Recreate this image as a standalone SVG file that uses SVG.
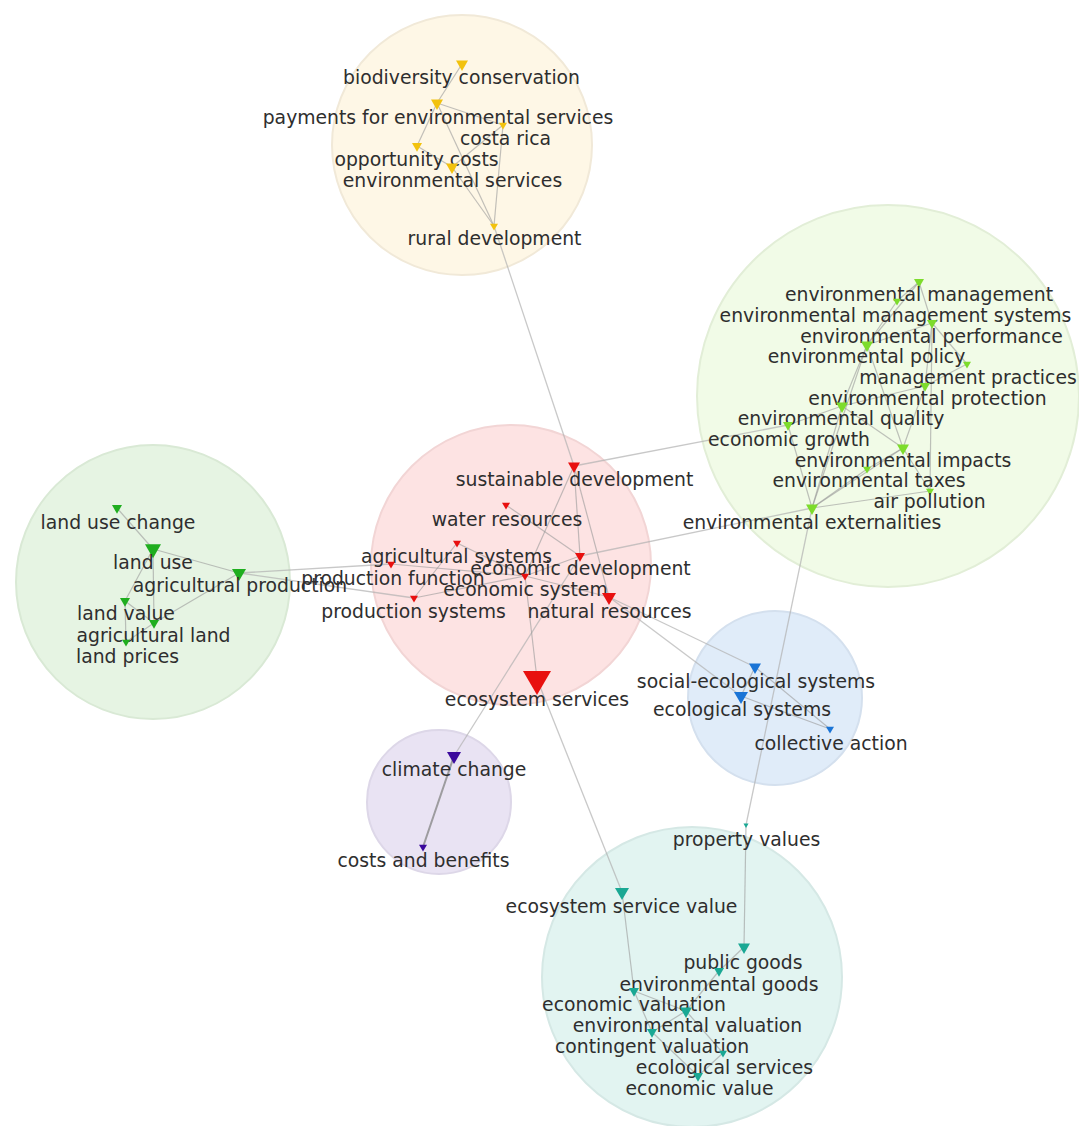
<svg xmlns="http://www.w3.org/2000/svg" xmlns:xlink="http://www.w3.org/1999/xlink" width="1079" height="1126" viewBox="0 0 1079 1126">
<defs>
<path id="tri" d="M-1,-0.58 L1,-0.58 L0,1.15 Z"/>
<style>
text{font-family:"DejaVu Sans","Liberation Sans",sans-serif;font-size:18.8px;fill:#2e2e2e;text-anchor:middle}
.e{stroke:#9a9a9a;stroke-width:1.2;stroke-opacity:0.6;fill:none}
.ex{stroke:#b0b0b0;stroke-width:1.3;stroke-opacity:0.7;fill:none}
.y{fill:#f2c20e}.gr{fill:#7ddc2c}.gl{fill:#1fae1f}.r{fill:#e8100f}.b{fill:#1a74d6}.p{fill:#3b0a9c}.t{fill:#1aa894}
</style>
</defs>
<rect width="1079" height="1126" fill="#ffffff"/>
<g id="clusters">
<circle cx="462" cy="145" r="130" fill="#fef7e6" stroke="#f1e9d8" stroke-width="2"/>
<circle cx="888" cy="396" r="191" fill="#f1fbe7" stroke="#e2eed7" stroke-width="2"/>
<circle cx="153" cy="582" r="137" fill="#e6f4e3" stroke="#d9e9d5" stroke-width="2"/>
<circle cx="511" cy="565" r="140" fill="#fde3e3" stroke="#f2d5d5" stroke-width="2"/>
<circle cx="775" cy="698" r="87" fill="#e0ecf9" stroke="#d4e0ee" stroke-width="2"/>
<circle cx="439" cy="802" r="72" fill="#e9e3f3" stroke="#ddd7e8" stroke-width="2"/>
<circle cx="692" cy="977" r="150" fill="#e2f4f1" stroke="#d5e8e5" stroke-width="2"/>
</g>
<g id="connectors">
<line class="e" x1="462" y1="64" x2="437" y2="103"/>
<line class="e" x1="437" y1="103" x2="417" y2="146"/>
<line class="e" x1="437" y1="103" x2="503" y2="125"/>
<line class="e" x1="437" y1="103" x2="494" y2="226"/>
<line class="e" x1="503" y1="125" x2="452" y2="167"/>
<line class="e" x1="503" y1="125" x2="494" y2="226"/>
<line class="e" x1="417" y1="146" x2="452" y2="167"/>
<line class="e" x1="452" y1="167" x2="494" y2="226"/>
<line class="ex" x1="494" y1="226" x2="574" y2="466"/>
<line class="e" x1="574" y1="466" x2="580" y2="556"/>
<line class="e" x1="574" y1="466" x2="609" y2="597"/>
<line class="e" x1="574" y1="466" x2="525" y2="576"/>
<line class="ex" x1="574" y1="466" x2="788" y2="425"/>
<line class="e" x1="506" y1="505" x2="580" y2="556"/>
<line class="e" x1="457" y1="543" x2="525" y2="576"/>
<line class="e" x1="457" y1="543" x2="414" y2="598"/>
<line class="e" x1="580" y1="556" x2="525" y2="576"/>
<line class="ex" x1="580" y1="556" x2="812" y2="508"/>
<line class="ex" x1="580" y1="556" x2="454" y2="756"/>
<line class="e" x1="525" y1="576" x2="537" y2="679"/>
<line class="e" x1="391" y1="564" x2="525" y2="576"/>
<line class="e" x1="414" y1="598" x2="525" y2="576"/>
<line class="e" x1="525" y1="576" x2="609" y2="597"/>
<line class="ex" x1="609" y1="597" x2="755" y2="667"/>
<line class="ex" x1="609" y1="597" x2="741" y2="696"/>
<line class="ex" x1="537" y1="679" x2="622" y2="892"/>
<line class="ex" x1="239" y1="573" x2="391" y2="564"/>
<line class="ex" x1="239" y1="573" x2="414" y2="598"/>
<line class="e" x1="919" y1="282" x2="897" y2="301"/>
<line class="e" x1="919" y1="282" x2="932" y2="323"/>
<line class="e" x1="919" y1="282" x2="867" y2="345"/>
<line class="e" x1="897" y1="301" x2="867" y2="345"/>
<line class="e" x1="932" y1="323" x2="867" y2="345"/>
<line class="e" x1="932" y1="323" x2="925" y2="386"/>
<line class="e" x1="932" y1="323" x2="930" y2="491"/>
<line class="e" x1="932" y1="323" x2="967" y2="364"/>
<line class="e" x1="867" y1="345" x2="842" y2="406"/>
<line class="e" x1="867" y1="345" x2="903" y2="448"/>
<line class="e" x1="867" y1="345" x2="812" y2="508"/>
<line class="e" x1="967" y1="364" x2="925" y2="386"/>
<line class="e" x1="925" y1="386" x2="842" y2="406"/>
<line class="e" x1="925" y1="386" x2="903" y2="448"/>
<line class="e" x1="842" y1="406" x2="788" y2="425"/>
<line class="e" x1="842" y1="406" x2="903" y2="448"/>
<line class="e" x1="842" y1="406" x2="812" y2="508"/>
<line class="e" x1="788" y1="425" x2="812" y2="508"/>
<line class="e" x1="903" y1="448" x2="867" y2="469"/>
<line class="e" x1="903" y1="448" x2="812" y2="508"/>
<line class="e" x1="903" y1="448" x2="930" y2="491"/>
<line class="e" x1="867" y1="469" x2="812" y2="508"/>
<line class="e" x1="930" y1="491" x2="812" y2="508"/>
<line class="e" x1="117" y1="508" x2="153" y2="549"/>
<line class="e" x1="153" y1="549" x2="239" y2="573"/>
<line class="e" x1="153" y1="549" x2="125" y2="601"/>
<line class="e" x1="153" y1="549" x2="154" y2="623"/>
<line class="e" x1="125" y1="601" x2="154" y2="623"/>
<line class="e" x1="125" y1="601" x2="126" y2="642"/>
<line class="e" x1="154" y1="623" x2="126" y2="642"/>
<line class="e" x1="239" y1="573" x2="154" y2="623"/>
<line class="e" x1="755" y1="667" x2="741" y2="696"/>
<line class="e" x1="755" y1="667" x2="830" y2="729"/>
<line class="e" x1="741" y1="696" x2="830" y2="729"/>
<line x1="454" y1="756" x2="423" y2="847" stroke="#8a8a8a" stroke-width="2" stroke-opacity="0.8"/>
<line class="ex" x1="812" y1="508" x2="746" y2="825"/>
<line class="e" x1="746" y1="825" x2="744" y2="947"/>
<line class="e" x1="622" y1="892" x2="634" y2="991"/>
<line class="e" x1="634" y1="991" x2="652" y2="1032"/>
<line class="e" x1="634" y1="991" x2="686" y2="1011"/>
<line class="e" x1="744" y1="947" x2="719" y2="971"/>
<line class="e" x1="719" y1="971" x2="686" y2="1011"/>
<line class="e" x1="686" y1="1011" x2="652" y2="1032"/>
<line class="e" x1="686" y1="1011" x2="723" y2="1053"/>
<line class="e" x1="652" y1="1032" x2="698" y2="1076"/>
<line class="e" x1="723" y1="1053" x2="698" y2="1076"/>
</g>
<g id="n-biodiversity-conservation"><use href="#tri" class="y" transform="translate(462,64) scale(6)"/><text x="461.5" y="84">biodiversity conservation</text></g>
<g id="n-payments"><use href="#tri" class="y" transform="translate(437,103) scale(6)"/><text x="438" y="124">payments for environmental services</text></g>
<g id="n-costa-rica"><use href="#tri" class="y" transform="translate(503,125) scale(4)"/><text x="505.5" y="145">costa rica</text></g>
<g id="n-opportunity-costs"><use href="#tri" class="y" transform="translate(417,146) scale(5)"/><text x="416.5" y="166">opportunity costs</text></g>
<g id="n-environmental-services"><use href="#tri" class="y" transform="translate(452,167) scale(6)"/><text x="452.5" y="187">environmental services</text></g>
<g id="n-rural-development"><use href="#tri" class="y" transform="translate(494,226) scale(4)"/><text x="494.5" y="245">rural development</text></g>

<g id="n-environmental-management"><use href="#tri" class="gr" transform="translate(919,282) scale(5)"/><text x="919" y="301">environmental management</text></g>
<g id="n-environmental-management-systems"><use href="#tri" class="gr" transform="translate(897,301) scale(4)"/><text x="895.5" y="322">environmental management systems</text></g>
<g id="n-environmental-performance"><use href="#tri" class="gr" transform="translate(932,323) scale(5)"/><text x="931.5" y="343">environmental performance</text></g>
<g id="n-environmental-policy"><use href="#tri" class="gr" transform="translate(867,345) scale(6)"/><text x="866.5" y="363">environmental policy</text></g>
<g id="n-management-practices"><use href="#tri" class="gr" transform="translate(967,364) scale(4)"/><text x="968" y="384">management practices</text></g>
<g id="n-environmental-protection"><use href="#tri" class="gr" transform="translate(925,386) scale(5)"/><text x="927.5" y="405">environmental protection</text></g>
<g id="n-environmental-quality"><use href="#tri" class="gr" transform="translate(842,406) scale(6)"/><text x="841" y="425">environmental quality</text></g>
<g id="n-economic-growth"><use href="#tri" class="gr" transform="translate(788,425) scale(5)"/><text x="789" y="446">economic growth</text></g>
<g id="n-environmental-impacts"><use href="#tri" class="gr" transform="translate(903,448) scale(6)"/><text x="903" y="467">environmental impacts</text></g>
<g id="n-environmental-taxes"><use href="#tri" class="gr" transform="translate(867,469) scale(4)"/><text x="869" y="487">environmental taxes</text></g>
<g id="n-air-pollution"><use href="#tri" class="gr" transform="translate(930,491) scale(4)"/><text x="929.5" y="508">air pollution</text></g>
<g id="n-environmental-externalities"><use href="#tri" class="gr" transform="translate(812,508) scale(6)"/><text x="812" y="529">environmental externalities</text></g>

<g id="n-sustainable-development"><use href="#tri" class="r" transform="translate(574,466) scale(6)"/><text x="574.5" y="486">sustainable development</text></g>
<g id="n-water-resources"><use href="#tri" class="r" transform="translate(506,505) scale(4)"/><text x="507" y="526">water resources</text></g>
<g id="n-agricultural-systems"><use href="#tri" class="r" transform="translate(457,543) scale(4)"/><text x="456.5" y="563">agricultural systems</text></g>
<g id="n-production-function"><use href="#tri" class="r" transform="translate(391,564) scale(4)"/><text x="393" y="585">production function</text></g>
<g id="n-economic-development"><use href="#tri" class="r" transform="translate(580,556) scale(5)"/><text x="580.5" y="575">economic development</text></g>
<g id="n-economic-system"><use href="#tri" class="r" transform="translate(525,576) scale(4)"/><text x="525.5" y="596">economic system</text></g>
<g id="n-production-systems"><use href="#tri" class="r" transform="translate(414,598) scale(4)"/><text x="413.5" y="618">production systems</text></g>
<g id="n-natural-resources"><use href="#tri" class="r" transform="translate(609,597) scale(7)"/><text x="609.5" y="618">natural resources</text></g>
<g id="n-ecosystem-services"><use href="#tri" class="r" transform="translate(537,679) scale(14)"/><text x="537" y="706">ecosystem services</text></g>

<g id="n-land-use-change"><use href="#tri" class="gl" transform="translate(117,508) scale(5)"/><text x="118" y="529">land use change</text></g>
<g id="n-land-use"><use href="#tri" class="gl" transform="translate(153,549) scale(8)"/><text x="153" y="569">land use</text></g>
<g id="n-agricultural-production"><use href="#tri" class="gl" transform="translate(239,573) scale(7)"/><text x="240" y="592">agricultural production</text></g>
<g id="n-land-value"><use href="#tri" class="gl" transform="translate(125,601) scale(5)"/><text x="126" y="620">land value</text></g>
<g id="n-agricultural-land"><use href="#tri" class="gl" transform="translate(154,623) scale(5)"/><text x="153.5" y="642">agricultural land</text></g>
<g id="n-land-prices"><use href="#tri" class="gl" transform="translate(126,642) scale(4)"/><text x="127.5" y="663">land prices</text></g>

<g id="n-social-ecological-systems"><use href="#tri" class="b" transform="translate(755,667) scale(6)"/><text x="756" y="688">social-ecological systems</text></g>
<g id="n-ecological-systems"><use href="#tri" class="b" transform="translate(741,696) scale(7)"/><text x="742" y="716">ecological systems</text></g>
<g id="n-collective-action"><use href="#tri" class="b" transform="translate(830,729) scale(4)"/><text x="831" y="750">collective action</text></g>

<g id="n-climate-change"><use href="#tri" class="p" transform="translate(454,756) scale(7)"/><text x="454" y="776">climate change</text></g>
<g id="n-costs-and-benefits"><use href="#tri" class="p" transform="translate(423,847) scale(4)"/><text x="423.5" y="867">costs and benefits</text></g>

<g id="n-property-values"><use href="#tri" class="t" transform="translate(746,825) scale(2.5)"/><text x="746.5" y="846">property values</text></g>
<g id="n-ecosystem-service-value"><use href="#tri" class="t" transform="translate(622,892) scale(7)"/><text x="621.5" y="913">ecosystem service value</text></g>
<g id="n-public-goods"><use href="#tri" class="t" transform="translate(744,947) scale(6)"/><text x="743" y="969">public goods</text></g>
<g id="n-environmental-goods"><use href="#tri" class="t" transform="translate(719,971) scale(5)"/><text x="719" y="991">environmental goods</text></g>
<g id="n-economic-valuation"><use href="#tri" class="t" transform="translate(634,991) scale(5)"/><text x="634" y="1011">economic valuation</text></g>
<g id="n-environmental-valuation"><use href="#tri" class="t" transform="translate(686,1011) scale(6)"/><text x="687.5" y="1032">environmental valuation</text></g>
<g id="n-contingent-valuation"><use href="#tri" class="t" transform="translate(652,1032) scale(5)"/><text x="652" y="1053">contingent valuation</text></g>
<g id="n-ecological-services"><use href="#tri" class="t" transform="translate(723,1053) scale(4)"/><text x="724.5" y="1074">ecological services</text></g>
<g id="n-economic-value"><use href="#tri" class="t" transform="translate(698,1076) scale(5)"/><text x="699.5" y="1095">economic value</text></g>
</svg>
